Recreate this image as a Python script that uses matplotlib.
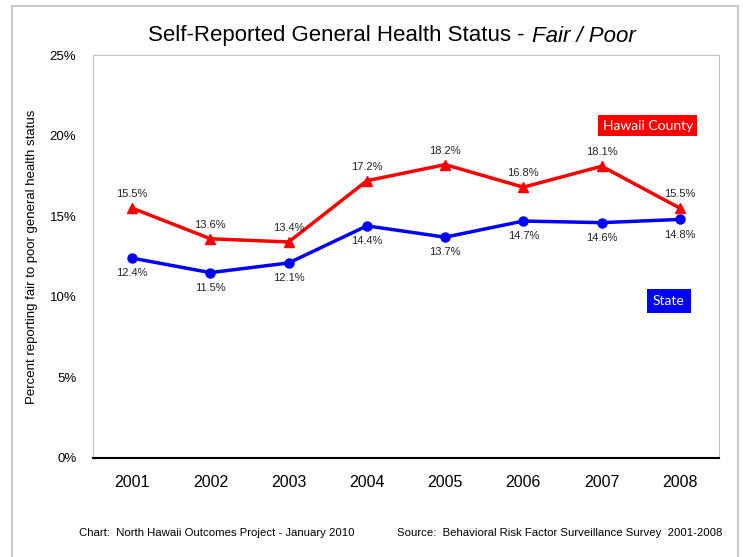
import numpy as np
import matplotlib.pyplot as plt
from matplotlib.patches import Rectangle

plt.rcParams['font.family'] = ['Liberation Sans', 'DejaVu Sans']

years = ['2001', '2002', '2003', '2004', '2005', '2006', '2007', '2008']
hawaii_county = [15.5, 13.6, 13.4, 17.2, 18.2, 16.8, 18.1, 15.5]
state = [12.4, 11.5, 12.1, 14.4, 13.7, 14.7, 14.6, 14.8]
y_ticks = [0, 5, 10, 15, 20, 25]

fig = plt.figure(figsize=(7.43, 5.57), dpi=100)
W, H = 743, 557

# outer grey frame of the chart object
fig.patches.append(Rectangle((12 / W, -0.1), (738 - 12) / W, 1.1 - 6 / H,
                             transform=fig.transFigure, fill=False,
                             ec='#c8c8c8', lw=1.5))

ax = fig.add_axes([93 / W, 1 - 458 / H, (719 - 93) / W, (458 - 55) / H])
x = np.arange(len(years))

ax.plot(x, hawaii_county, color='#ff0000', lw=2.5, marker='^', ms=7, zorder=3)
ax.plot(x, state, color='#0000ff', lw=2.5, marker='o', ms=6.5, zorder=3)

for xi, v in zip(x, hawaii_county):
    ax.annotate(f'{v:.1f}%', (xi, v), xytext=(0, 10), textcoords='offset points',
                ha='center', va='center', fontsize=8, color='#222222')
for xi, v in zip(x, state):
    ax.annotate(f'{v:.1f}%', (xi, v), xytext=(0, -11), textcoords='offset points',
                ha='center', va='center', fontsize=8, color='#222222')

ax.set_xlim(-0.5, len(years) - 0.5)
ax.set_ylim(0, 25)
ax.set_yticks(y_ticks)
ax.set_yticklabels([f'{t}%' for t in y_ticks], fontsize=9.5)
ax.set_xticks(x)
ax.set_xticklabels(years, fontsize=11.5)
ax.tick_params(axis='both', length=0)
ax.tick_params(axis='x', pad=12)
ax.tick_params(axis='y', pad=12)

for side in ['top', 'right', 'left']:
    ax.spines[side].set_color('#c0c0c0')
    ax.spines[side].set_linewidth(0.8)
ax.spines['bottom'].set_color('black')
ax.spines['bottom'].set_linewidth(1.5)

ax.set_ylabel('Percent reporting fair to poor general health status', fontsize=9.5, labelpad=8)

# title: regular part plus italic part
fig.text(524 / W, 1 - 36 / H, 'Self-Reported General Health Status -',
         ha='right', va='center', fontsize=16)
fig.text(532 / W, 1 - 36 / H, 'Fair / Poor', style='italic',
         ha='left', va='center', fontsize=16)

# series labels as coloured boxes
box_font = ['Lato', 'DejaVu Sans']
ax.text(6.59, 20.6, 'Hawaii County', color='white', fontsize=10, ha='center', va='center',
        family=box_font, bbox=dict(boxstyle='square,pad=0.32', fc='#ff0000', ec='none'))
ax.text(6.86, 9.74, 'State', color='white', fontsize=10, ha='center', va='center',
        family=box_font, bbox=dict(boxstyle='square,pad=0.45', fc='#0000ff', ec='none'))

fig.text(79 / W, 1 - 533 / H, 'Chart:  North Hawaii Outcomes Project - January 2010',
         fontsize=8.2, va='center')
fig.text(397 / W, 1 - 533 / H, 'Source:  Behavioral Risk Factor Surveillance Survey  2001-2008',
         fontsize=8.2, va='center')

fig.savefig('out.png', dpi=100)
